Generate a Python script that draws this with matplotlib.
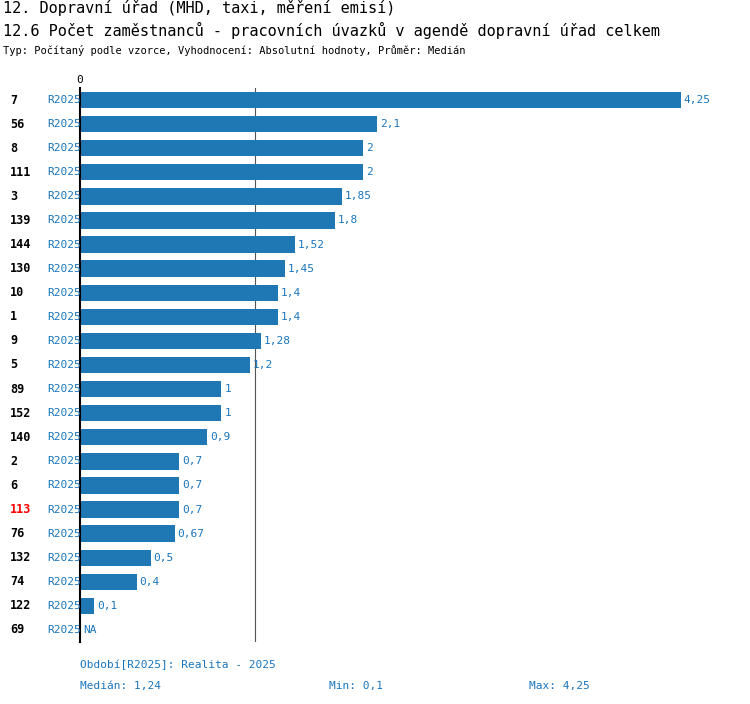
import matplotlib
matplotlib.use("Agg")
import matplotlib.pyplot as plt

ids = ["7","56","8","111","3","139","144","130","10","1","9","5","89","152","140","2","6","113","76","132","74","122","69"]
values = [4.25,2.1,2,2,1.85,1.8,1.52,1.45,1.4,1.4,1.28,1.2,1,1,0.9,0.7,0.7,0.7,0.67,0.5,0.4,0.1,None]
period = "R2025"
median = 1.24
highlight = "113"

FONT = "DejaVu Sans Mono"
BLUE = "#1f77b4"
TXT = "#1a75bc"
plt.rcParams['font.family'] = FONT

fig = plt.figure(figsize=(7.5, 7.04), dpi=100)
W, H = 750, 704
ax = fig.add_axes([80/W, 1-642/H, (720-80)/W, (642-88)/H])
ax.set_xlim(0, 640/141.4)
ax.set_ylim(len(ids)-0.5, -0.5)
for s in ["top", "right", "bottom"]:
    ax.spines[s].set_visible(False)
ax.spines["left"].set_linewidth(1.5)
ax.set_xticks([]); ax.set_yticks([])
ax.axvline(median, color="#555555", lw=0.8, zorder=0)

for i, (k, v) in enumerate(zip(ids, values)):
    if v is not None:
        ax.barh(i, v, height=0.68, color=BLUE, zorder=2)
        ax.text(v + 0.02, i, f"{v:g}".replace(".", ","), va="center", ha="left", fontsize=8, color=TXT)
    else:
        ax.text(0.02, i, "NA", va="center", ha="left", fontsize=8, color=TXT)
    ax.text(-70/141.4*1, i, k, va="center", ha="left", fontsize=8.5, fontweight="bold",
            color="red" if k == highlight else "black", transform=ax.transData)
    ax.text(-33/141.4, i, period, va="center", ha="left", fontsize=8, color=TXT)

fig.text(80/W, 1-80/H, "0", ha="center", va="center", fontsize=8)
fig.text(3/W, 1-8/H, "12. Dopravní úřad (MHD, taxi, měření emisí)", ha="left", va="center", fontsize=11)
fig.text(3/W, 1-30/H, "12.6 Počet zaměstnanců - pracovních úvazků v agendě dopravní úřad celkem", ha="left", va="center", fontsize=11)
fig.text(3/W, 1-50/H, "Typ: Počítaný podle vzorce, Vyhodnocení: Absolutní hodnoty, Průměr: Medián", ha="left", va="center", fontsize=7.5)
fig.text(80/W, 1-665/H, "Období[R2025]: Realita - 2025", ha="left", va="center", fontsize=8, color=TXT)
fig.text(80/W, 1-686/H, "Medián: 1,24", ha="left", va="center", fontsize=8, color=TXT)
fig.text(329/W, 1-686/H, "Min: 0,1", ha="left", va="center", fontsize=8, color=TXT)
fig.text(529/W, 1-686/H, "Max: 4,25", ha="left", va="center", fontsize=8, color=TXT)

fig.savefig("out.png", dpi=100)
